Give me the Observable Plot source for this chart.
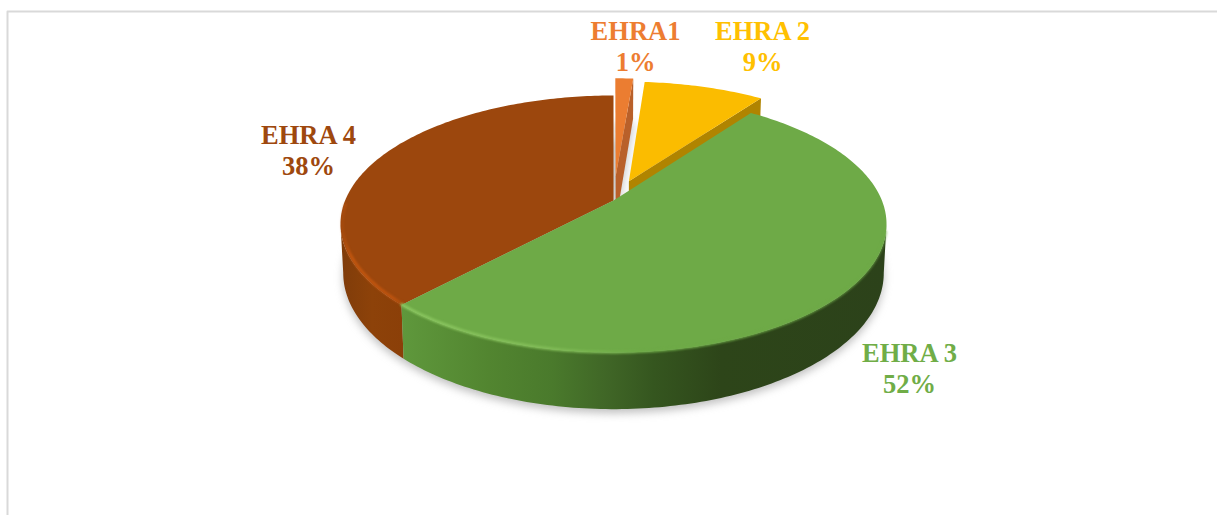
<!DOCTYPE html>
<html>
<head>
<meta charset="utf-8">
<script src="https://cdn.jsdelivr.net/npm/d3@7"></script>
<script src="https://cdn.jsdelivr.net/npm/@observablehq/plot@0.6"></script>
<style>
html,body{margin:0;padding:0;background:#fff;}
svg{display:block;}
</style>
</head>
<body>
<div id="chart"></div>
<script>
// Data
const categories = ["EHRA1", "EHRA 2", "EHRA 3", "EHRA 4"];
const shares = [1.3, 8.7, 52, 38];
const shareLabels = ["1%", "9%", "52%", "38%"];
const explosion = [0.2, 0.17, 0, 0];

// Colours
const faceColors = ["#EB7D31", "#FBBC00", "#6EAA47", "#9C470D"];
const labelColors = ["#ED7D31", "#FFC000", "#70AD47", "#9E480E"];

// Layout: perspective view of the pie disc
const W = 1217, H = 515;
const view = {cx: 613, cy: 200, a: 268.4, b: 124.2, p: 0.183, depth: 47.5, shrink: 0.99};
const labelPlaces = [[635, 45], [762, 45], [909, 367], [308, 149]];

function project(u, v, bottom) {
  const w = 1 + view.p * v;
  const s = bottom ? view.shrink : 1;
  return {
    x: view.cx + s * view.a * u / w,
    y: view.cy - s * view.b * v / w + (bottom ? view.depth / w : 0)
  };
}
const arcs = d3.pie().sort(null).startAngle(0).endAngle(2 * Math.PI)(shares);
const slices = categories.map((name, i) => {
  const mid = (arcs[i].startAngle + arcs[i].endAngle) / 2;
  return {
    name, i,
    t0: arcs[i].startAngle, t1: arcs[i].endAngle,
    ox: explosion[i] * Math.sin(mid), oy: explosion[i] * Math.cos(mid)
  };
});
function rimPoint(s, t, bottom, r = 1) {
  return project(s.ox + r * Math.sin(t), s.oy + r * Math.cos(t), bottom);
}
function apex(s, bottom) {
  return project(s.ox, s.oy, bottom);
}
function arcPts(s, t0, t1, bottom, r = 1) {
  const n = Math.max(4, Math.ceil(Math.abs(t1 - t0) * 60));
  return d3.range(n + 1).map(k => rimPoint(s, t0 + (t1 - t0) * k / n, bottom, r));
}
const facePts = s => [apex(s, false), ...arcPts(s, s.t0, s.t1, false)];
const bottomPts = s => [apex(s, true), ...arcPts(s, s.t0, s.t1, true)];
const wallPts = (s, t0, t1) => [...arcPts(s, t0, t1, false), ...arcPts(s, t1, t0, true)];
const cutPts = s => [apex(s, false), rimPoint(s, s.t1, false), rimPoint(s, s.t1, true), apex(s, true)];

const polygon = (pts, fill, extra = {}) =>
  Plot.line(pts, {x: "x", y: "y", fill, stroke: "none", ...extra});

const [orange, yellow, green, brown] = slices;
const deg = d => d * Math.PI / 180;

const shadow = slices.flatMap(s => bottomPts(s).map(p => ({...p, key: s.name})));

const labelRows = categories.map((c, i) => ({
  text: c + "\n" + shareLabels[i],
  x: labelPlaces[i][0], y: labelPlaces[i][1],
  color: labelColors[i]
}));

const plot = Plot.plot({
  width: W, height: H,
  margin: 0,
  x: {type: "linear", domain: [0, W], range: [0, W], axis: null},
  y: {type: "linear", domain: [0, H], range: [0, H], axis: null},
  marks: [
    // chart frame
    Plot.line([{x: 7, y: H}, {x: 7, y: 11}, {x: W, y: 11}], {x: "x", y: "y", stroke: "#d9d9d9", strokeWidth: 2}),
    // soft shadow
    Plot.line(shadow, {x: "x", y: "y", z: "key", fill: "#8c8c8c", stroke: "none", dy: 4, opacity: 0.55, imageFilter: "blur(4px)"}),
    // EHRA1
    polygon(cutPts(orange), "#B9602A"),
    polygon(facePts(orange), faceColors[0]),
    // EHRA 2
    polygon(cutPts(yellow), "#B08400"),
    polygon(facePts(yellow), faceColors[1]),
    // EHRA 4
    polygon(wallPts(brown, brown.t0, deg(259.5)), "url(#brownWall)"),
    polygon(facePts(brown), faceColors[3]),
    Plot.line(arcPts(brown, brown.t0, deg(268), false, 0.994), {x: "x", y: "y", stroke: "url(#brownRim)", strokeWidth: 3, imageFilter: "blur(0.8px)"}),
    // EHRA 3
    polygon(wallPts(green, deg(100.5), green.t1), "url(#greenWall)"),
    polygon(facePts(green), faceColors[2]),
    Plot.line(arcPts(green, deg(104), green.t1, false, 0.998), {x: "x", y: "y", stroke: "url(#greenRim)", strokeWidth: 3, imageFilter: "blur(0.9px)"}),
    // labels
    Plot.text(labelRows, {
      x: "x", y: "y", text: "text", fill: "color",
      fontFamily: "Liberation Serif", fontWeight: "bold", fontSize: 26.5,
      lineHeight: 1.17, textAnchor: "middle", frameAnchor: "middle"
    })
  ]
});

const defs = document.createElementNS("http://www.w3.org/2000/svg", "defs");
const gradient = (id, stops) =>
  `<linearGradient id="${id}" x1="0" y1="0" x2="1" y2="0">` +
  stops.map(([o, c, a]) => `<stop offset="${o}" stop-color="${c}" stop-opacity="${a ?? 1}"/>`).join("") +
  `</linearGradient>`;
defs.innerHTML =
  gradient("greenWall", [[0, "#5f983c"], [0.18, "#528530"], [0.31, "#4a7a2c"], [0.43, "#3f6526"], [0.52, "#35561f"], [0.66, "#2d4519"], [1, "#2c421a"]]) +
  gradient("brownWall", [[0, "#7f3c0a"], [0.5, "#8d4209"], [1, "#8b3f08"]]) +
  gradient("greenRim", [[0, "#8ac65f"], [0.3, "#82bd58"], [0.5, "#6EAA47"], [1, "#6EAA47", 0.7]]) +
  gradient("brownRim", [[0, "#c4570f", 0.2], [0.15, "#c4570f"], [0.85, "#bf540f"], [1, "#a84d0e"]]);
plot.insertBefore(defs, plot.firstChild);
document.getElementById("chart").appendChild(plot);
</script>
</body>
</html>
